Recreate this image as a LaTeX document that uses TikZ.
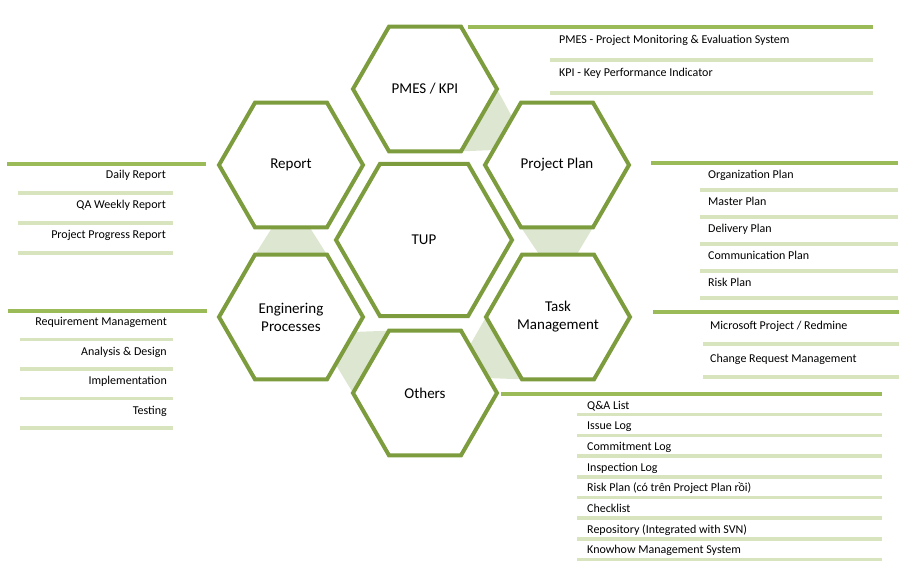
\documentclass[tikz,border=0pt]{standalone}
\usepackage{fontspec}
\setmainfont{Carlito}
\usepackage{tikz}
\usetikzlibrary{shapes.geometric, positioning, calc, backgrounds}
\definecolor{hexLine}{RGB}{124,156,62}
\definecolor{listDark}{RGB}{155,187,89}
\definecolor{listLight}{RGB}{215,228,189}
\definecolor{linkFill}{RGB}{221,230,208}
\tikzstyle{hex} = [regular polygon, regular polygon sides=6, minimum size=144pt, inner sep=0pt, outer sep=0pt, draw=hexLine, line width=4pt, fill=white, text=black, font=\fontsize{15}{18}\selectfont, align=center]
\tikzstyle{bighex} = [hex, minimum size=176pt]
\tikzstyle{headline} = [draw=listDark, line width=4pt]
\tikzstyle{sepline} = [draw=listLight, line width=3.5pt]
\tikzstyle{item} = [font=\fontsize{12}{14}\selectfont, inner sep=0pt, text=black]
\tikzstyle{link} = [fill=linkFill]

\begin{document}
\begin{tikzpicture}[x=1pt, y=-1pt]
\useasboundingbox (0,0) rectangle (910,570);

\node (tup) [bighex] at (424,240) {TUP};
\node (pmes) [hex] at (425,89) {PMES / KPI};
\node (plan) [hex] at (557,165) {Project Plan};
\node (task) [hex] at (558,317) {Task\\Management};
\node (others) [hex] at (425,393) {Others};
\node (eng) [hex] at (291,317) {Enginering\\Processes};
\node (report) [hex] at (291,165) {Report};

% light links between neighbouring hexagons
\begin{pgfonlayer}{background}
\foreach \a/\ai/\aj/\b/\bi/\bj in {pmes/0/300/plan/120/180, plan/240/300/task/120/60, task/180/240/others/60/0, others/120/180/eng/0/300, eng/60/120/report/300/240}
  \fill [link] (\a.\ai) -- ($(\b.\bi)!0.24!(\b.\bj)$) -- ($(\b.\bj)!0.24!(\b.\bi)$) -- (\a.\aj) -- cycle;
\end{pgfonlayer}

% PMES / KPI
\draw [headline] (468,27) -- (873,27);
\foreach \txt [count=\i] in {PMES - Project Monitoring \& Evaluation System, KPI - Key Performance Indicator} {
  \draw [sepline] (550,{27+33*\i}) -- (873,{27+33*\i});
  \node (pm\i) [item, anchor=base west] at (559,{27+33*(\i-1)+16}) {\txt};
}

% Report
\draw [headline] (7,164) -- (206,164);
\foreach \txt [count=\i] in {Daily Report, QA Weekly Report, Project Progress Report} {
  \draw [sepline] (18,{163+30*\i}) -- (173,{163+30*\i});
  \node (rp\i) [item, anchor=base east] at (166,{163+30*(\i-1)+15}) {\txt};
}

% Project Plan
\draw [headline] (651,163) -- (898,163);
\foreach \txt [count=\i] in {Organization Plan, Master Plan, Delivery Plan, Communication Plan, Risk Plan} {
  \draw [sepline] (700,{163+27*\i}) -- (898,{163+27*\i});
  \node (pp\i) [item, anchor=base west] at (708,{163+27*(\i-1)+15}) {\txt};
}

% Enginering Processes
\draw [headline] (8,311) -- (207,311);
\foreach \txt [count=\i] in {Requirement Management, Analysis \& Design, Implementation, Testing} {
  \draw [sepline] (20,{310+29.5*\i}) -- (173,{310+29.5*\i});
  \node (ep\i) [item, anchor=base east] at (167,{310+29.5*(\i-1)+15.5}) {\txt};
}

% Task Management
\draw [headline] (653,312) -- (899,312);
\foreach \txt [count=\i] in {Microsoft Project / Redmine, Change Request Management} {
  \draw [sepline] (703,{311+33*\i}) -- (899,{311+33*\i});
  \node (tm\i) [item, anchor=base west] at (710,{311+33*(\i-1)+18}) {\txt};
}

% Others
\draw [headline] (501,394) -- (882,394);
\foreach \txt [count=\i] in {Q\&A List, Issue Log, Commitment Log, Inspection Log, Risk Plan (có trên Project Plan rồi), Checklist, Repository (Integrated with SVN), Knowhow Management System} {
  \draw [sepline] (577,{394+20.7*\i}) -- (882,{394+20.7*\i});
  \node (ot\i) [item, anchor=base west] at (587,{394+20.7*(\i-1)+15}) {\txt};
}

\end{tikzpicture}
\end{document}
